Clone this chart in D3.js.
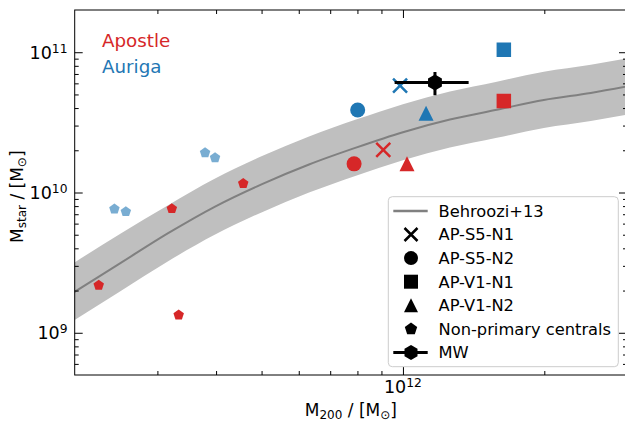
<!DOCTYPE html>
<html>
<head>
<meta charset="utf-8">
<script src="https://cdn.jsdelivr.net/npm/d3@7"></script>
<style>
  body { margin: 0; background: #fff; }
  text { font-family: "DejaVu Sans", sans-serif; }
</style>
</head>
<body>
<svg id="chart" width="625" height="421"></svg>
<script>
// ---- data ----
let haloNames = ["AP-S5-N1", "AP-S5-N2", "AP-V1-N1", "AP-V1-N2"];
let apostleM200 = [9.08e11, 7.87e11, 1.64e12, 1.02e12];
let apostleMstar = [2.01e10, 1.60e10, 4.49e10, 1.60e10];
let aurigaM200 = [9.86e11, 8.01e11, 1.64e12, 1.12e12];
let aurigaMstar = [5.77e10, 3.87e10, 1.04e11, 3.67e10];

// non-primary centrals (pentagons)
let apostleNpM200 = [2.25e11, 3.22e11, 4.57e11, 3.33e11];
let apostleNpMstar = [2.18e9, 7.67e9, 1.16e10, 1.34e9];
let aurigaNpM200 = [2.43e11, 2.57e11, 3.79e11, 3.98e11];
let aurigaNpMstar = [7.63e9, 7.30e9, 1.92e10, 1.77e10];

// Milky Way
let mwM200 = [1.17e12], mwM200Err = [0.21e12];
let mwMstar = [6.08e10], mwMstarErr = [1.14e10];

// Behroozi+13 relation (log10 values) and its scatter band
let behLogM200 = [11.3, 11.4, 11.5, 11.6, 11.7, 11.8, 11.9, 12.0, 12.1, 12.2, 12.3, 12.4, 12.5];
let behLogMstar = [9.29, 9.50, 9.71, 9.90, 10.06, 10.20, 10.32, 10.43, 10.52, 10.59, 10.66, 10.71, 10.77];
let behLogHi = [9.50, 9.71, 9.91, 10.10, 10.26, 10.40, 10.52, 10.63, 10.72, 10.79, 10.86, 10.91, 10.97];
let behLogLo = [9.09, 9.30, 9.51, 9.70, 9.86, 10.00, 10.12, 10.23, 10.32, 10.39, 10.46, 10.51, 10.57];

// ticks
let majorX = [1e12], majorXLabels = ["12"];
let minorX = [3e11, 4e11, 5e11, 6e11, 7e11, 8e11, 9e11, 2e12];
let majorY = [1e9, 1e10, 1e11], majorYLabels = ["9", "10", "11"];
let minorY = [6e8, 7e8, 8e8, 9e8, 2e9, 3e9, 4e9, 5e9, 6e9, 7e9, 8e9, 9e9,
              2e10, 3e10, 4e10, 5e10, 6e10, 7e10, 8e10, 9e10];

let legendLabels = ["Behroozi+13", "AP-S5-N1", "AP-S5-N2", "AP-V1-N1", "AP-V1-N2", "Non-primary centrals", "MW"];

// ---- layout ----
let pLeft = 74.7, pRight = 627, pTop = 10, pBottom = 375;
let red = "#d62728", blue = "#1f77b4";
let shapes = { "AP-S5-N1": "x", "AP-S5-N2": "circle", "AP-V1-N1": "square", "AP-V1-N2": "triangle" };
let sizes = { x: 14, circle: 15, square: 14.5, triangle: 15, pentagon: 11, hexagon: 16 };

let svg = d3.select("#chart");

let x = d3.scaleLog().domain([2e11, 3e12]).range([pLeft, pRight]);
let y = d3.scaleLog().domain([5e8, 2e11]).range([pBottom, pTop]);

svg.append("defs").append("clipPath").attr("id", "clip")
  .append("rect").attr("x", pLeft).attr("y", pTop)
  .attr("width", pRight - pLeft).attr("height", pBottom - pTop);

function polygon(n, r) {
  let pts = d3.range(n).map(k => {
    let a = -Math.PI / 2 + k * 2 * Math.PI / n;
    return [r * Math.cos(a), r * Math.sin(a)];
  });
  return "M" + pts.map(p => p[0].toFixed(2) + "," + p[1].toFixed(2)).join("L") + "Z";
}

function markerPath(kind, s) {
  let r = s / 2;
  if (kind === "circle") return d3.symbol(d3.symbolCircle, Math.PI * r * r)();
  if (kind === "square") return `M${-r},${-r}H${r}V${r}H${-r}Z`;
  if (kind === "triangle") return `M0,${-r}L${r},${r}L${-r},${r}Z`;
  if (kind === "pentagon") return polygon(5, r);
  if (kind === "hexagon") return polygon(6, r);
  return `M${-r},${-r}L${r},${r}M${-r},${r}L${r},${-r}`; // x
}

function drawMarker(g, kind, s, color, cx, cy, opacity) {
  let p = g.append("path")
    .attr("d", markerPath(kind, s))
    .attr("transform", `translate(${cx},${cy})`);
  if (kind === "x") {
    p.attr("fill", "none").attr("stroke", color).attr("stroke-width", 2.5);
  } else {
    p.attr("fill", color);
  }
  if (opacity) p.attr("opacity", opacity);
  return p;
}

// ---- Behroozi band + line ----
let plot = svg.append("g").attr("clip-path", "url(#clip)");
let behIdx = d3.range(behLogM200.length);

let area = d3.area()
  .x(i => x(Math.pow(10, behLogM200[i])))
  .y0(i => y(Math.pow(10, behLogLo[i])))
  .y1(i => y(Math.pow(10, behLogHi[i])))
  .curve(d3.curveMonotoneX);

plot.append("path").datum(behIdx)
  .attr("d", area)
  .attr("fill", "#bfbfbf");

let line = d3.line()
  .x(i => x(Math.pow(10, behLogM200[i])))
  .y(i => y(Math.pow(10, behLogMstar[i])))
  .curve(d3.curveMonotoneX);

plot.append("path").datum(behIdx)
  .attr("d", line)
  .attr("fill", "none")
  .attr("stroke", "#808080")
  .attr("stroke-width", 2);

// ---- points ----
apostleNpM200.forEach((m, i) => drawMarker(plot, "pentagon", sizes.pentagon, red, x(m), y(apostleNpMstar[i])));
aurigaNpM200.forEach((m, i) => drawMarker(plot, "pentagon", sizes.pentagon, blue, x(m), y(aurigaNpMstar[i]), 0.6));

haloNames.forEach((name, i) => {
  let k = shapes[name];
  drawMarker(plot, k, sizes[k], red, x(apostleM200[i]), y(apostleMstar[i]));
  drawMarker(plot, k, sizes[k], blue, x(aurigaM200[i]), y(aurigaMstar[i]));
});

// MW with error bars
mwM200.forEach((m, i) => {
  let cx = x(m), cy = y(mwMstar[i]);
  plot.append("line")
    .attr("x1", x(m - mwM200Err[i])).attr("x2", x(m + mwM200Err[i]))
    .attr("y1", cy).attr("y2", cy)
    .attr("stroke", "black").attr("stroke-width", 3);
  plot.append("line")
    .attr("x1", cx).attr("x2", cx)
    .attr("y1", y(mwMstar[i] - mwMstarErr[i])).attr("y2", y(mwMstar[i] + mwMstarErr[i]))
    .attr("stroke", "black").attr("stroke-width", 3);
  drawMarker(plot, "hexagon", sizes.hexagon, "black", cx, cy);
});

// ---- axes (ticks pointing in) ----
function ticks(axis, vals, len, tr) {
  let g = svg.append("g").attr("transform", tr)
    .call(axis.tickValues(vals).tickSize(-len).tickSizeOuter(0).tickFormat(""));
  g.select(".domain").remove();
  g.selectAll(".tick line").attr("stroke", "black").attr("stroke-width", 1);
}
ticks(d3.axisBottom(x), majorX, 8, `translate(0,${pBottom})`);
ticks(d3.axisBottom(x), minorX, 4, `translate(0,${pBottom})`);
ticks(d3.axisTop(x), majorX, 8, `translate(0,${pTop})`);
ticks(d3.axisTop(x), minorX, 4, `translate(0,${pTop})`);
ticks(d3.axisLeft(y), majorY, 8, `translate(${pLeft},0)`);
ticks(d3.axisLeft(y), minorY, 4, `translate(${pLeft},0)`);
ticks(d3.axisRight(y), majorY, 8, `translate(${pRight},0)`);
ticks(d3.axisRight(y), minorY, 4, `translate(${pRight},0)`);

svg.append("rect")
  .attr("x", pLeft).attr("y", pTop)
  .attr("width", pRight - pLeft).attr("height", pBottom - pTop)
  .attr("fill", "none").attr("stroke", "black").attr("stroke-width", 1);

// tick labels 10^n
majorX.forEach((v, i) => {
  let t = svg.append("text")
    .attr("x", x(v)).attr("y", 393.3)
    .attr("text-anchor", "middle")
    .style("font-size", "17.5px");
  t.append("tspan").text("10");
  t.append("tspan").attr("dy", -6).style("font-size", "12.3px").text(majorXLabels[i]);
});
majorY.forEach((v, i) => {
  let t = svg.append("text")
    .attr("x", 67.5).attr("y", y(v) + 6.6)
    .attr("text-anchor", "end")
    .style("font-size", "17.5px");
  t.append("tspan").text("10");
  t.append("tspan").attr("dy", -6).style("font-size", "12.3px").text(majorYLabels[i]);
});

// axis labels
function subLabel(t, sub) {
  t.append("tspan").text("M");
  t.append("tspan").attr("dy", 3).style("font-size", "12px").text(sub);
  t.append("tspan").attr("dy", -3).text(" / [M");
  t.append("tspan").attr("dy", 3).style("font-size", "12px").text("\u2299");
  t.append("tspan").attr("dy", -3).text("]");
}
let xl = svg.append("text")
  .attr("x", (pLeft + pRight) / 2).attr("y", 415.7)
  .attr("text-anchor", "middle").style("font-size", "17px");
subLabel(xl, "200");

let yl = svg.append("text")
  .attr("transform", "translate(22.7,196.7) rotate(-90)")
  .attr("text-anchor", "middle").style("font-size", "17px");
subLabel(yl, "star");

// simulation names
svg.append("text").attr("x", 102).attr("y", 46.7)
  .style("font-size", "18.3px").attr("fill", red).text("Apostle");
svg.append("text").attr("x", 102).attr("y", 72.7)
  .style("font-size", "18.3px").attr("fill", blue).text("Auriga");

// ---- legend ----
let lg = svg.append("g");
lg.append("rect")
  .attr("x", 388.3).attr("y", 196.7)
  .attr("width", 230).attr("height", 170)
  .attr("rx", 4)
  .attr("fill", "white").attr("fill-opacity", 0.8)
  .attr("stroke", "#cccccc").attr("stroke-width", 1);

let legendKinds = ["line", "x", "circle", "square", "triangle", "pentagon", "mw"];
let legendSizes = { x: 13, circle: 14, square: 14, triangle: 14, pentagon: 13 };
legendLabels.forEach((lab, i) => {
  let base = 216.7 + i * 23.6;
  let cy = base - 5.8;
  let kind = legendKinds[i];
  if (kind === "line") {
    lg.append("line").attr("x1", 393.3).attr("x2", 427.7).attr("y1", cy).attr("y2", cy)
      .attr("stroke", "#808080").attr("stroke-width", 2.5);
  } else if (kind === "mw") {
    lg.append("line").attr("x1", 393.3).attr("x2", 427.7).attr("y1", cy).attr("y2", cy)
      .attr("stroke", "black").attr("stroke-width", 3);
    drawMarker(lg, "hexagon", 15, "black", 411, cy);
  } else {
    drawMarker(lg, kind, legendSizes[kind], "black", 411, cy);
  }
  lg.append("text").attr("x", 438.5).attr("y", base)
    .style("font-size", "16.3px").attr("fill", "black").text(lab);
});
</script>
</body>
</html>
